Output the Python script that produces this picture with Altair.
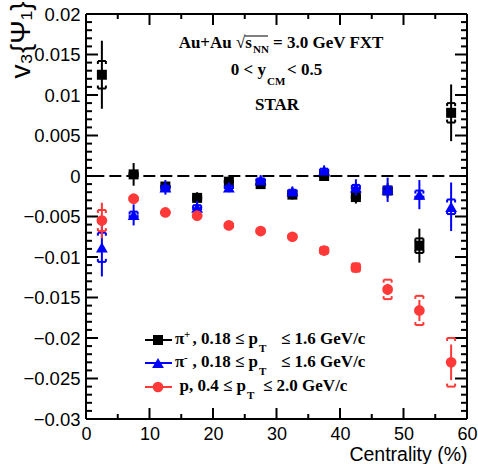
import altair as alt
import pandas as pd

# ---- data ----
cent = [2.5, 7.5, 12.5, 17.5, 22.5, 27.5, 32.5, 37.5, 42.5, 47.5, 52.5, 57.5]

pip_v = [0.0125, 0.0002, -0.0013, -0.0027, -0.0007, -0.0010, -0.0023, 0.0000, -0.0026, -0.0018, -0.0086, 0.0078]
pip_stat = [0.0042, 0.0014, 0.0005, 0.0007, 0.0005, 0.0005, 0.0006, 0.0005, 0.0008, 0.0009, 0.0021, 0.0035]
pip_sys = [0.0017, 0.0003, 0.0002, 0.0003, 0.0002, 0.0002, 0.0002, 0.0002, 0.0003, 0.0004, 0.0009, 0.0012]

pim_v = [-0.0088, -0.0048, -0.0014, -0.0039, -0.0014, -0.0005, -0.0019, 0.0007, -0.0014, -0.0017, -0.0023, -0.0038]
pim_stat = [0.0036, 0.0013, 0.0009, 0.0008, 0.0006, 0.0006, 0.0006, 0.0006, 0.0010, 0.0015, 0.0018, 0.0030]
pim_sys = [0.0018, 0.0004, 0.0002, 0.0003, 0.0002, 0.0002, 0.0002, 0.0002, 0.0003, 0.0004, 0.0005, 0.0009]

p_v = [-0.0055, -0.0028, -0.0045, -0.0049, -0.0061, -0.0068, -0.0075, -0.0092, -0.0113, -0.0140, -0.0166, -0.0230]
p_stat = [0.0022, 0.0004, 0.0003, 0.0003, 0.0003, 0.0003, 0.0004, 0.0004, 0.0005, 0.0007, 0.0013, 0.0022]
p_sys = [0.0013, 0.0003, 0.0002, 0.0002, 0.0003, 0.0003, 0.0003, 0.0004, 0.0005, 0.0012, 0.0018, 0.0030]

x_major = [0, 10, 20, 30, 40, 50, 60]
x_minor = [5, 15, 25, 35, 45, 55]
y_major = [-0.03, -0.025, -0.02, -0.015, -0.01, -0.005, 0, 0.005, 0.01, 0.015, 0.02]
y_minor = [round(i * 0.001, 3) for i in range(-30, 21) if i % 5 != 0]
zero_line_x = [1, 59]

series = [
    ("pip", pip_v, pip_stat, pip_sys, "#000000", "square", 100),
    ("pim", pim_v, pim_stat, pim_sys, "#0000ff", "triangle-up", 140),
    ("p", p_v, p_stat, p_sys, "#ff3838", "circle", 115),
]

W, H = 381, 405
xs = alt.Scale(domain=[0, 60], nice=False, zero=False)
ys = alt.Scale(domain=[-0.03, 0.02], nice=False, zero=False)

one = pd.DataFrame({"k": [0]})

xaxis = alt.Axis(values=x_major, title="Centrality (%)", grid=False, ticks=False, tickSize=0,
                 domain=False, labelFont="Liberation Sans", labelFontSize=18, labelColor="black",
                 labelBaseline="alphabetic", labelPadding=20, labelFlush=False, labelOverlap=False,
                 titleFont="Liberation Sans", titleFontSize=19.5, titleFontWeight="normal",
                 titleColor="black", titleAlign="right", titleBaseline="alphabetic",
                 titleX=W, titleY=41)
yaxis = alt.Axis(values=y_major, format="~g", title="v₃{Ψ₁}", grid=False, ticks=False, tickSize=0,
                 domain=False, labelFont="Liberation Sans", labelFontSize=18.5, labelColor="black",
                 labelPadding=6, labelFlush=False, labelOverlap=False,
                 titleFont="Liberation Sans", titleFontSize=28, titleFontWeight="normal",
                 titleColor="black", titleAngle=270, titleAlign="right", titleBaseline="alphabetic",
                 titleX=-57, titleY=-13)

X = lambda f: alt.X(f, scale=xs, axis=xaxis)
Y = lambda f: alt.Y(f, scale=ys, axis=yaxis)

layers = []

# zero dashed line
zl = pd.DataFrame({"x1": [zero_line_x[0]], "x2": [zero_line_x[1]], "y": [0.0]})
layers.append(
    alt.Chart(zl).mark_rule(color="black", strokeWidth=2, strokeDash=[12, 5]).encode(
        x=X("x1:Q"), x2="x2:Q", y=Y("y:Q"))
)

# frame
def hl(yv):
    return alt.Chart(one).mark_rule(color="black", strokeWidth=2).encode(
        x=alt.value(0), x2=alt.value(W), y=alt.value(yv))

def vl(xv):
    return alt.Chart(one).mark_rule(color="black", strokeWidth=2).encode(
        y=alt.value(0), y2=alt.value(H), x=alt.value(xv))

layers += [hl(0), hl(H), vl(0), vl(W)]

# frame ticks
def yt(vals, x0, x1):
    return alt.Chart(pd.DataFrame({"v": vals})).mark_rule(color="black", strokeWidth=2).encode(
        y=Y("v:Q"), x=alt.value(x0), x2=alt.value(x1))

def xt(vals, y0, y1):
    return alt.Chart(pd.DataFrame({"v": vals})).mark_rule(color="black", strokeWidth=2).encode(
        x=X("v:Q"), y=alt.value(y0), y2=alt.value(y1))

layers += [yt(y_major, 0, 12), yt(y_minor, 0, 6), yt(y_major, W, W - 12), yt(y_minor, W, W - 6),
           xt(x_major, H, H - 11), xt(x_minor, H, H - 5), xt(x_major, 0, 11), xt(x_minor, 0, 5)]

# data series
for name, vals, stat, sys, color, shape, size in series:
    d = pd.DataFrame({"c": cent, "v": vals,
                      "lo": [a - b for a, b in zip(vals, stat)], "hi": [a + b for a, b in zip(vals, stat)],
                      "slo": [a - b for a, b in zip(vals, sys)], "shi": [a + b for a, b in zip(vals, sys)]})
    base = alt.Chart(d)
    layers.append(base.mark_rule(color=color, strokeWidth=2).encode(
        x=X("c:Q"), y=Y("lo:Q"), y2="hi:Q"))
    for fld, hook in (("shi", 3), ("slo", -3)):
        layers.append(base.mark_rule(color=color, strokeWidth=2, xOffset=-4, x2Offset=4).encode(
            x=X("c:Q"), x2="c:Q", y=Y(f"{fld}:Q")))
        for xo in (-4, 4):
            layers.append(base.mark_rule(color=color, strokeWidth=2, xOffset=xo, y2Offset=hook).encode(
                x=X("c:Q"), y=Y(f"{fld}:Q"), y2=f"{fld}:Q"))
    layers.append(base.mark_point(shape=shape, filled=True, size=size, opacity=1, color=color,
                                  strokeWidth=0).encode(x=X("c:Q"), y=Y("v:Q")))


def txt(s, x, y, size=17, align="left"):
    return alt.Chart(one).mark_text(text=s, align=align, baseline="alphabetic", font="Liberation Serif",
                                    fontSize=size, fontWeight="bold", color="black").encode(
        x=alt.value(x), y=alt.value(y))

# header annotation
layers += [
    txt("Au+Au  √s", 166, 34, align="right"),
    txt("NN", 167, 39, size=11),
    txt("= 3.0 GeV FXT", 187, 34),
    alt.Chart(one).mark_rule(color="black", strokeWidth=1).encode(
        x=alt.value(159), x2=alt.value(182), y=alt.value(22)),
    txt("0 < y", 180, 61, align="right"),
    txt("CM", 181, 71, size=11),
    txt("< 0.5", 201, 61),
    txt("STAR", 191, 96, align="center"),
]

# legend
leg_rows = [
    ("π", "+", ", 0.18  ≤ p", "≤ 1.6 GeV/c", 330),
    ("π", "-", ", 0.18  ≤ p", "≤ 1.6 GeV/c", 353),
    (None, None, "p, 0.4  ≤ p", "≤ 2.0 GeV/c", 377),
]
for (name, vals, stat, sys, color, shape, size), (a, sup, b, c, yb) in zip(series, leg_rows):
    yl = yb - 4
    layers.append(alt.Chart(one).mark_rule(color=color, strokeWidth=2).encode(
        x=alt.value(59), x2=alt.value(86), y=alt.value(yl)))
    layers.append(alt.Chart(one).mark_point(shape=shape, filled=True, size=size, opacity=1,
                                            color=color, strokeWidth=0).encode(
        x=alt.value(72), y=alt.value(yl)))
    if a is not None:
        layers.append(txt(a, 89, yb))
        layers.append(txt(sup, 98, yb - 6, size=11))
        layers.append(txt(b, 172, yb, align="right"))
        layers.append(txt("T", 173, yb + 8, size=11))
        layers.append(txt(c, 195, yb))
    else:
        layers.append(txt(b, 160, yb, align="right"))
        layers.append(txt("T", 161, yb + 8, size=11))
        layers.append(txt(c, 177, yb))

chart = alt.layer(*layers).properties(
    width=W, height=H,
    autosize=alt.AutoSizeParams(type="none"),
    padding={"left": 86, "top": 14, "right": 11, "bottom": 45},
    background="white",
).configure_view(strokeWidth=0)

chart.save("out.html", embed_options={"renderer": "svg", "actions": False})
